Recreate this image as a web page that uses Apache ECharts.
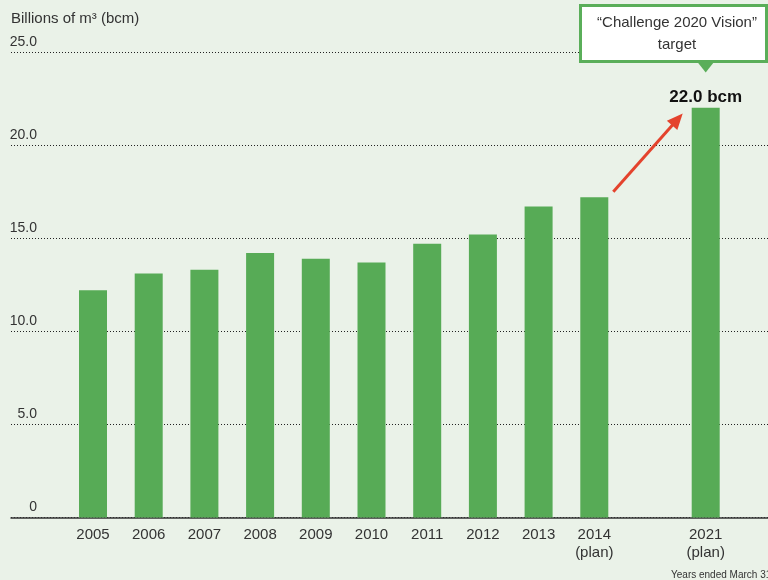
<!DOCTYPE html>
<html>
<head>
<meta charset="utf-8">
<script src="https://cdn.jsdelivr.net/npm/echarts@6/dist/echarts.min.js"></script>
<style>
html,body{margin:0;padding:0;background:#eaf2e8;}
#chart{width:768px;height:580px;}
</style>
</head>
<body>
<div id="chart"></div>
<script>
const categories = ['2005','2006','2007','2008','2009','2010','2011','2012','2013','2014\n(plan)','','2021\n(plan)'];
const values = [12.2, 13.1, 13.3, 14.2, 13.9, 13.7, 14.7, 15.2, 16.7, 17.2, null, 22.0];
const yTicks = [0, 5, 10, 15, 20, 25];
const targetLabel = '22.0 bcm';
const calloutLines = ['\u201CChallenge 2020 Vision\u201D', 'target'];
const unitTitle = 'Billions of m\u00B3 (bcm)';
const footNote = 'Years ended March 31';

const FONT = '"Liberation Sans", Arial, Helvetica, sans-serif';
const GREEN = '#57ab56';
const TEXT = '#333333';

const chart = echarts.init(document.getElementById('chart'), null, {renderer: 'canvas'});

const seriesData = values.map((v, i) => {
  if (i === values.length - 1) {
    return {
      value: v,
      label: {
        show: true, position: 'top', distance: 2,
        formatter: targetLabel, fontFamily: FONT, fontSize: 17,
        fontWeight: 'bold', color: '#111'
      }
    };
  }
  return v;
});

const option = {
  backgroundColor: '#eaf2e8',
  animation: false,
  title: {
    text: unitTitle, left: 11, top: 11, padding: 0,
    textStyle: {fontFamily: FONT, fontSize: 15, fontWeight: 'normal', color: TEXT}
  },
  grid: [
    {left: 11, right: 0, top: 52, bottom: 62.5},
    {left: 65.15, width: 668.4, top: 52, bottom: 62.5}
  ],
  xAxis: [
    {
      gridIndex: 0, type: 'value', min: 0, max: 1,
      axisLine: {show: true, lineStyle: {color: TEXT, width: 1.5}},
      axisTick: {show: false}, axisLabel: {show: false}, splitLine: {show: false}
    },
    {
      gridIndex: 1, type: 'category', data: categories,
      axisLine: {show: false}, axisTick: {show: false},
      axisLabel: {
        interval: 0, margin: 8, fontFamily: FONT, fontSize: 15,
        lineHeight: 18, color: TEXT
      }
    }
  ],
  yAxis: [
    {
      gridIndex: 0, type: 'value', min: yTicks[0], max: yTicks[yTicks.length - 1], interval: 5,
      axisLine: {show: false}, axisTick: {show: false},
      axisLabel: {
        inside: true, align: 'right', margin: 26, verticalAlign: 'bottom',
        padding: [0, 0, 3, 0],
        fontFamily: FONT, fontSize: 14, color: TEXT,
        formatter: v => (v === 0 ? '0' : v.toFixed(1))
      },
      splitLine: {
        show: true,
        lineStyle: {color: '#222', width: 1, type: [1, 2]}
      }
    },
    {
      gridIndex: 1, type: 'value', min: 0, max: 25, interval: 5,
      show: false, splitLine: {show: false}
    }
  ],
  series: [
    {
      type: 'bar', xAxisIndex: 1, yAxisIndex: 1,
      data: seriesData, barWidth: 28,
      itemStyle: {color: GREEN},
      z: 3
    }
  ]
};

chart.setOption(option);

// Annotations anchored to the data positions
const p2014 = chart.convertToPixel({xAxisIndex: 1, yAxisIndex: 1}, [9, 17.5]);
const p2021 = chart.convertToPixel({xAxisIndex: 1, yAxisIndex: 1}, [11, 21.7]);
const x0 = p2014[0] + 19, y0 = p2014[1];
const x1 = p2021[0] - 23, y1 = p2021[1];
const dx = x1 - x0, dy = y1 - y0;
const len = Math.sqrt(dx * dx + dy * dy);
const ux = dx / len, uy = dy / len;
const headLen = 16, headHalf = 7;
const bx = x1 - ux * headLen, by = y1 - uy * headLen;
const nx = -uy, ny = ux;
const RED = '#e4432d';

const boxX = 580.5, boxY = 5.5, boxW = 186, boxH = 56;
const triX = chart.convertToPixel({xAxisIndex: 1}, 11);

chart.setOption({
  graphic: [
    {
      type: 'line', z: 10,
      shape: {x1: x0, y1: y0, x2: bx + ux * 2, y2: by + uy * 2},
      style: {stroke: RED, lineWidth: 3}
    },
    {
      type: 'polygon', z: 10,
      shape: {points: [[x1, y1], [bx + nx * headHalf, by + ny * headHalf], [bx - nx * headHalf, by - ny * headHalf]]},
      style: {fill: RED}
    },
    {
      type: 'rect', z: 10,
      shape: {x: boxX, y: boxY, width: boxW, height: boxH},
      style: {fill: '#ffffff', stroke: '#5aae59', lineWidth: 3}
    },
    {
      type: 'polygon', z: 10,
      shape: {points: [[triX - 7.5, boxY + boxH + 1.5], [triX + 7.5, boxY + boxH + 1.5], [triX, boxY + boxH + 11]]},
      style: {fill: '#5aae59'}
    },
    {
      type: 'text', z: 11,
      style: {
        x: 677, y: 22.5, text: calloutLines[0], align: 'center', verticalAlign: 'middle',
        fontFamily: FONT, fontSize: 15, fill: TEXT
      }
    },
    {
      type: 'text', z: 11,
      style: {
        x: 677, y: 45, text: calloutLines[1], align: 'center', verticalAlign: 'middle',
        fontFamily: FONT, fontSize: 15, fill: TEXT
      }
    },
    {
      type: 'text', z: 11,
      style: {
        x: 671, y: 575.5, text: footNote, align: 'left', verticalAlign: 'middle',
        fontFamily: FONT, fontSize: 10, fill: TEXT
      }
    }
  ]
});
</script>
</body>
</html>
